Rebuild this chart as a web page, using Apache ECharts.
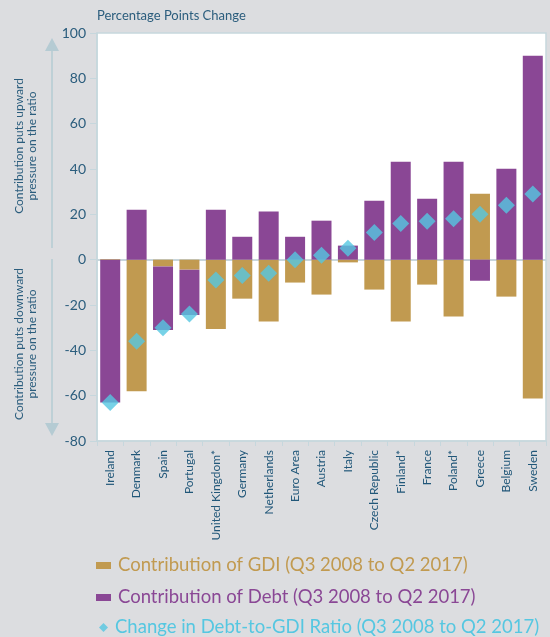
<!DOCTYPE html>
<html><head><meta charset="utf-8">
<script src="https://cdn.jsdelivr.net/npm/echarts@6/dist/echarts.min.js"></script>
<style>html,body{margin:0;padding:0;background:#dcdde0;}#c{width:550px;height:637px;}</style>
</head><body><div id="c"></div>
<script>
const categories = ['Ireland','Denmark','Spain','Portugal','United Kingdom*','Germany','Netherlands','Euro Area','Austria','Italy','Czech Republic','Finland*','France','Poland*','Greece','Belgium','Sweden'];
const gdiContribution  = [0.3, -58, -3, -4.4, -30.6, -17.2, -27.3, -10.1, -15.4, -1.2, -13.2, -27.3, -11, -25.1, 29.1, -16.3, -61.3];
const debtContribution = [-63, 22, -28, -20, 22, 10.1, 21.2, 10.1, 17.2, 6.2, 26, 43.2, 26.9, 43.2, -9.3, 40.1, 90];
const ratioChange      = [-63, -36, -30, -24, -9, -7, -6, 0, 2, 5, 12, 16, 17, 18, 20, 24, 29];
const yTicks = {min: -80, max: 100, interval: 20};
const seriesNames = ['Contribution of GDI (Q3 2008 to Q2 2017)', 'Contribution of Debt (Q3 2008 to Q2 2017)', 'Change in Debt-to-GDI Ratio (Q3 2008 to Q2 2017)'];

const FONT = 'Lato, "Open Sans", sans-serif';
const C_GDI = '#c19a50', C_DEBT = '#8a4795', C_RATIO = '#55c7e1', C_TEXT = '#2b5d7d', C_AX = '#c6d7dd';

const chart = echarts.init(document.getElementById('c'), null, {renderer: 'canvas'});
const gTop = 33, gBottom = 441, gLeft = 97, gRight = 546;
function legendItem(i, leftPx, topPx, icon, color, w, h, gap) {
  return {orient: 'vertical', left: leftPx, top: topPx, padding: 0, itemWidth: w, itemHeight: h, itemGap: gap,
    selectedMode: false, icon: icon,
    textStyle: {fontFamily: FONT, fontSize: 18.5, color: color, padding: [0, 0, 0, 2]},
    data: [seriesNames[i]]};
}
chart.setOption({
  backgroundColor: '#dcdde0',
  animation: false,
  textStyle: {fontFamily: FONT},
  title: {text: 'Percentage Points Change', left: 92, top: 4,
    textStyle: {fontFamily: FONT, fontSize: 13, fontWeight: 'normal', color: C_TEXT}},
  grid: {left: gLeft, top: gTop, right: 550 - gRight, bottom: 637 - gBottom, show: true,
    backgroundColor: '#ffffff', borderColor: C_AX, borderWidth: 1.5},
  legend: [
    legendItem(0, 96, 556, 'rect', C_GDI, 15, 7, 5),
    legendItem(1, 96, 588, 'rect', C_DEBT, 15, 7, 5),
    legendItem(2, 99, 618, 'diamond', C_RATIO, 9, 9, 8)
  ],
  xAxis: {
    type: 'category', data: categories,
    axisLine: {onZero: false, lineStyle: {color: C_AX, width: 1.5}},
    axisTick: {show: true, length: 5, lineStyle: {color: C_AX}},
    axisLabel: {rotate: 90, interval: 0, color: '#215779', fontSize: 12, fontFamily: FONT, margin: 9}
  },
  yAxis: {
    type: 'value', min: yTicks.min, max: yTicks.max, interval: yTicks.interval,
    axisLine: {show: true, lineStyle: {color: C_AX, width: 1.5}},
    axisTick: {show: true, length: 7, lineStyle: {color: C_AX}},
    splitLine: {show: false},
    axisLabel: {color: '#2b5d7d', fontSize: 14, fontFamily: FONT, margin: 11}
  },
  series: [
    {name: seriesNames[0], type: 'bar', stack: 's', data: gdiContribution,
      barWidth: 20, itemStyle: {color: C_GDI},
      markLine: {silent: true, symbol: 'none', label: {show: false},
        lineStyle: {color: '#c8d6dc', width: 2, type: 'solid'}, data: [{yAxis: 0}], z: 1}},
    {name: seriesNames[1], type: 'bar', stack: 's', data: debtContribution,
      barWidth: 20, itemStyle: {color: C_DEBT}},
    {name: seriesNames[2], type: 'scatter', data: ratioChange,
      symbol: 'diamond', symbolSize: [17, 17], itemStyle: {color: C_RATIO}, z: 5}
  ],
  graphic: [
    {type: 'line', shape: {x1: 52, y1: 248, x2: 52, y2: 46}, style: {stroke: '#b5cbd3', lineWidth: 1.5}},
    {type: 'polygon', shape: {points: [[52, 38], [45, 51], [59, 51]]}, style: {fill: '#b5cbd3'}},
    {type: 'line', shape: {x1: 52, y1: 259, x2: 52, y2: 428}, style: {stroke: '#b5cbd3', lineWidth: 1.5}},
    {type: 'polygon', shape: {points: [[52, 436], [45, 423], [59, 423]]}, style: {fill: '#b5cbd3'}},
    {type: 'text', x: 26, y: 146, rotation: Math.PI / 2,
      style: {text: 'Contribution puts upward\npressure on the ratio', fill: C_TEXT, font: '12px ' + FONT,
        textAlign: 'center', textVerticalAlign: 'middle', lineHeight: 13}},
    {type: 'text', x: 26, y: 344, rotation: Math.PI / 2,
      style: {text: 'Contribution puts downward\npressure on the ratio', fill: C_TEXT, font: '12px ' + FONT,
        textAlign: 'center', textVerticalAlign: 'middle', lineHeight: 13}}
  ]
});
</script></body></html>
